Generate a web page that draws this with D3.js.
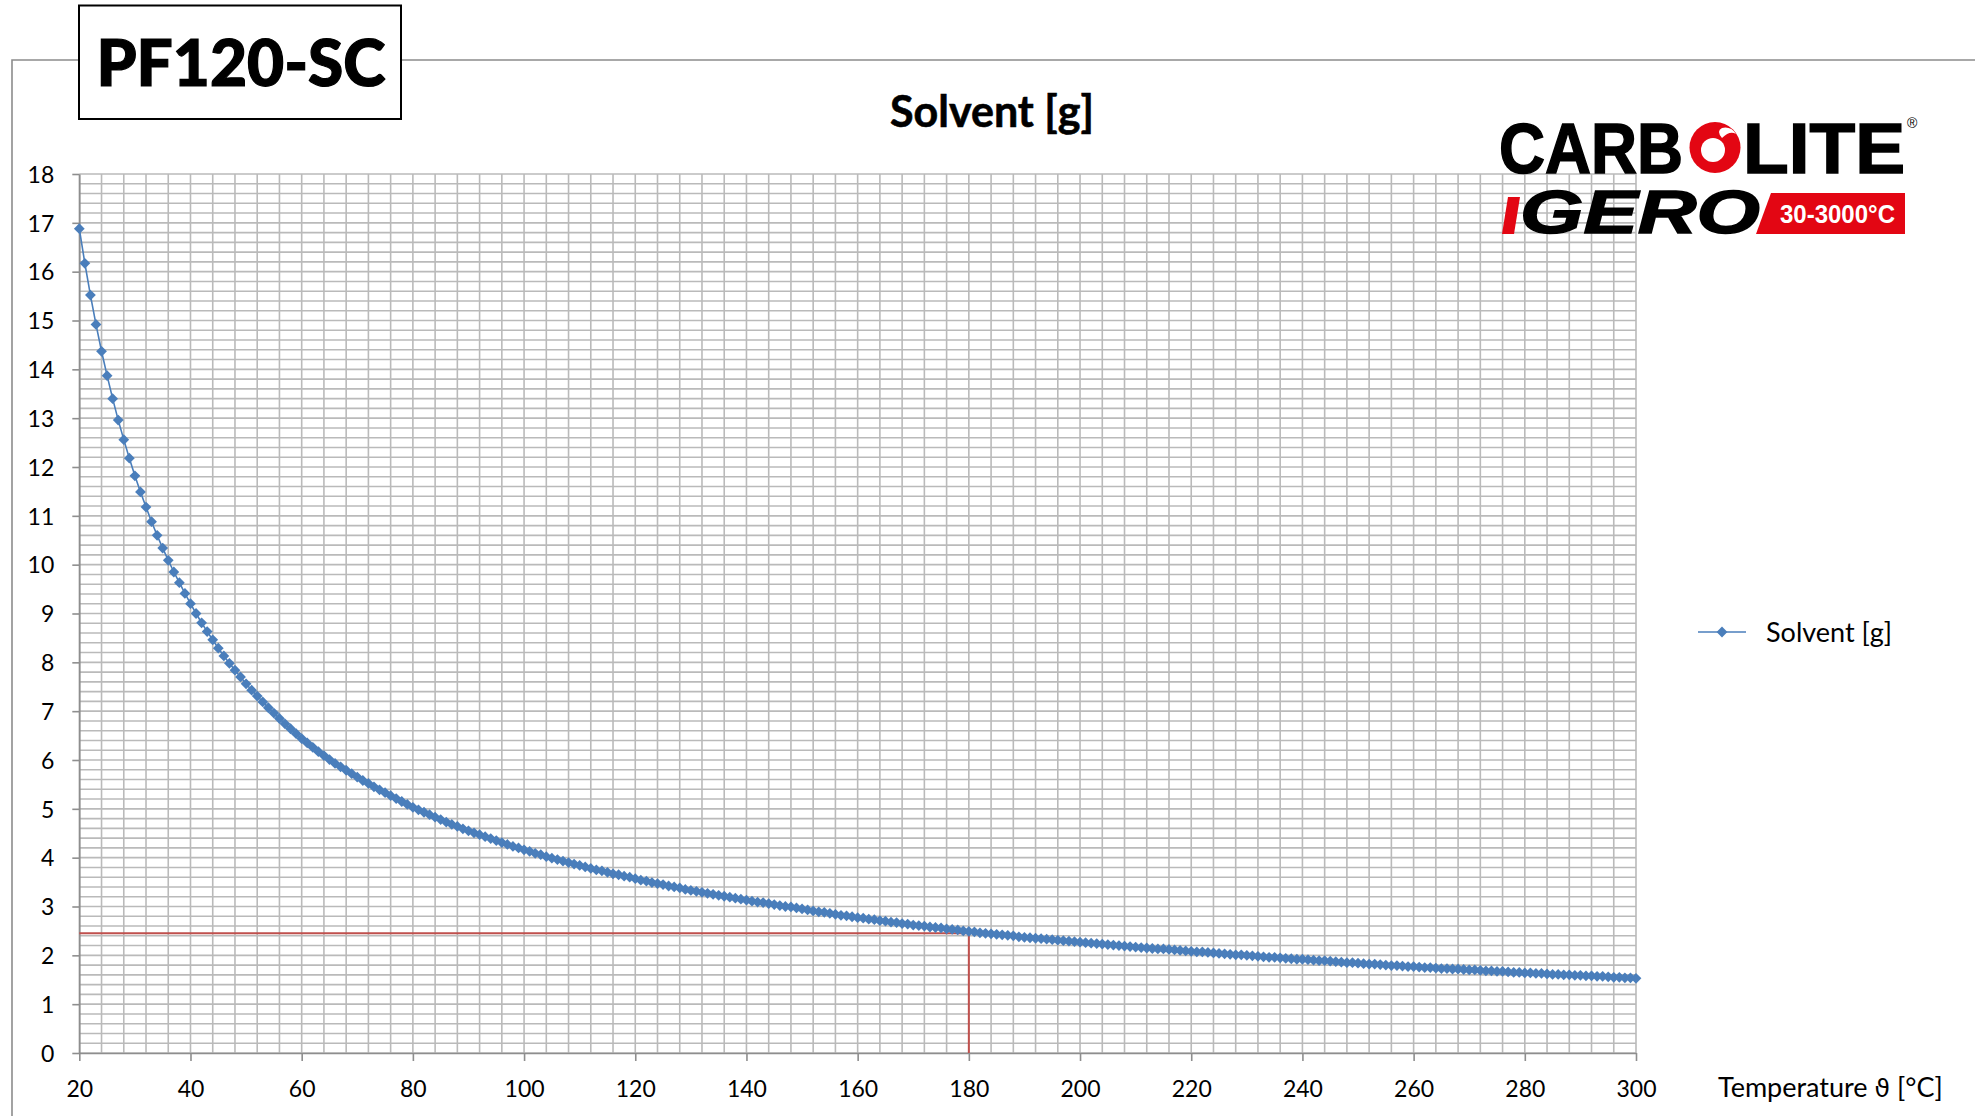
<!DOCTYPE html>
<html>
<head>
<meta charset="utf-8">
<script src="https://cdn.jsdelivr.net/npm/d3@7"></script>
<style>
  body { margin: 0; background: #fff; }
  svg { display: block; font-family: Lato, "Open Sans", sans-serif; }
</style>
</head>
<body>
<div id="chart"></div>
<script>
// one reading per degree, 20..300 degC
var temperatures = d3.range(20, 301);

var solvent = [
  16.88, 16.17, 15.52, 14.92, 14.37, 13.87, 13.40, 12.96, 12.56, 12.18,
  11.82, 11.49, 11.18, 10.88, 10.60, 10.34, 10.09, 9.85, 9.63, 9.41,
  9.20, 9.00, 8.81, 8.63, 8.46, 8.29, 8.13, 7.98, 7.84, 7.70,
  7.56, 7.43, 7.31, 7.19, 7.07, 6.96, 6.85, 6.74, 6.64, 6.54,
  6.44, 6.35, 6.26, 6.17, 6.09, 6.01, 5.93, 5.86, 5.79, 5.72,
  5.65, 5.58, 5.52, 5.45, 5.39, 5.33, 5.27, 5.21, 5.15, 5.09,
  5.03, 4.98, 4.93, 4.88, 4.83, 4.78, 4.73, 4.68, 4.64, 4.59,
  4.55, 4.51, 4.47, 4.43, 4.39, 4.35, 4.31, 4.27, 4.23, 4.20,
  4.16, 4.13, 4.09, 4.06, 4.02, 3.99, 3.96, 3.93, 3.90, 3.87,
  3.84, 3.81, 3.78, 3.75, 3.73, 3.70, 3.67, 3.65, 3.62, 3.60,
  3.57, 3.54, 3.52, 3.49, 3.47, 3.45, 3.42, 3.40, 3.38, 3.35,
  3.33, 3.31, 3.29, 3.27, 3.25, 3.23, 3.21, 3.19, 3.17, 3.15,
  3.13, 3.11, 3.09, 3.08, 3.06, 3.04, 3.02, 3.00, 2.99, 2.97,
  2.95, 2.93, 2.91, 2.89, 2.88, 2.86, 2.84, 2.82, 2.81, 2.79,
  2.77, 2.76, 2.74, 2.73, 2.71, 2.70, 2.68, 2.67, 2.65, 2.64,
  2.62, 2.61, 2.60, 2.58, 2.57, 2.56, 2.54, 2.53, 2.52, 2.50,
  2.49, 2.48, 2.46, 2.45, 2.44, 2.43, 2.42, 2.41, 2.40, 2.38,
  2.37, 2.36, 2.35, 2.34, 2.33, 2.32, 2.31, 2.30, 2.29, 2.28,
  2.27, 2.26, 2.25, 2.24, 2.23, 2.22, 2.21, 2.20, 2.19, 2.18,
  2.17, 2.16, 2.15, 2.14, 2.13, 2.13, 2.12, 2.11, 2.10, 2.09,
  2.08, 2.07, 2.07, 2.06, 2.05, 2.04, 2.03, 2.02, 2.01, 2.01,
  2.00, 1.99, 1.98, 1.97, 1.96, 1.96, 1.95, 1.94, 1.93, 1.92,
  1.92, 1.91, 1.90, 1.89, 1.89, 1.88, 1.87, 1.86, 1.85, 1.85,
  1.84, 1.83, 1.82, 1.82, 1.81, 1.80, 1.79, 1.79, 1.78, 1.77,
  1.77, 1.76, 1.75, 1.75, 1.74, 1.73, 1.73, 1.72, 1.72, 1.71,
  1.70, 1.70, 1.69, 1.68, 1.68, 1.67, 1.67, 1.66, 1.65, 1.65,
  1.64, 1.64, 1.63, 1.63, 1.62, 1.61, 1.61, 1.60, 1.60, 1.59,
  1.59, 1.58, 1.58, 1.57, 1.57, 1.56, 1.55, 1.55, 1.54, 1.54,
  1.53
];

var xTicks = [20, 40, 60, 80, 100, 120, 140, 160, 180, 200, 220, 240, 260, 280, 300];
var yTicks = [0, 1, 2, 3, 4, 5, 6, 7, 8, 9, 10, 11, 12, 13, 14, 15, 16, 17, 18];
var xGrid = d3.range(20, 301, 4);
var yGrid = d3.range(0, 90.5).map(function(i) { return i / 5; });

// reading marked on the chart
var refTemp = 180;
var refValue = 2.45;

var W = 1975, H = 1116;
var plot = { left: 79.3, right: 1636, top: 174, bottom: 1053 };
var blue = '#4a7ebb', red = '#c0504d';

var svg = d3.select('#chart').append('svg')
  .attr('width', W).attr('height', H);

var x = d3.scaleLinear().domain([20, 300]).range([plot.left, plot.right]);
var y = d3.scaleLinear().domain([0, 18]).range([plot.bottom, plot.top]);

// outer chart frame, broken by the title box
svg.append('path')
  .attr('d', 'M12,1120V60H79M401,60H1980')
  .attr('fill', 'none').attr('stroke', '#8c8c8c').attr('stroke-width', 1.6);

svg.append('rect')
  .attr('x', 79).attr('y', 5.5).attr('width', 322).attr('height', 113.5)
  .attr('fill', '#fff').attr('stroke', '#000').attr('stroke-width', 2);
svg.append('text')
  .attr('x', 241).attr('y', 86).attr('text-anchor', 'middle')
  .attr('stroke', '#000').attr('stroke-width', 1.2)
  .style('font-size', '64px').style('font-weight', 900)
  .text('PF120-SC');

svg.append('text')
  .attr('x', 992).attr('y', 127).attr('text-anchor', 'middle')
  .attr('stroke', '#000').attr('stroke-width', 0.6)
  .style('font-size', '43px').style('font-weight', 700)
  .text('Solvent [g]');

// grid
var grid = svg.append('g').attr('stroke', '#bababa').attr('stroke-width', 1.6);
grid.selectAll('line.gx').data(xGrid).enter().append('line')
  .attr('class', 'gx')
  .attr('x1', function(d) { return x(d); }).attr('x2', function(d) { return x(d); })
  .attr('y1', plot.top).attr('y2', plot.bottom);
grid.selectAll('line.gy').data(yGrid).enter().append('line')
  .attr('class', 'gy')
  .attr('x1', plot.left).attr('x2', plot.right)
  .attr('y1', function(d) { return y(d); }).attr('y2', function(d) { return y(d); });

// axes
var xAxis = svg.append('g')
  .attr('transform', 'translate(0,' + plot.bottom + ')')
  .call(d3.axisBottom(x).tickValues(xTicks).tickSize(8).tickPadding(20).tickSizeOuter(0));
var yAxis = svg.append('g')
  .attr('transform', 'translate(' + plot.left + ',0)')
  .call(d3.axisLeft(y).tickValues(yTicks).tickSize(7).tickPadding(18).tickSizeOuter(0));

[xAxis, yAxis].forEach(function(a) {
  a.select('.domain').attr('stroke', '#8e8e8e').attr('stroke-width', 1.6);
  a.selectAll('.tick line').attr('stroke', '#8e8e8e').attr('stroke-width', 1.6);
  a.selectAll('.tick text')
    .attr('fill', '#000')
    .style('font-family', 'Lato, "Open Sans", sans-serif')
    .style('font-size', '23px');
});
yAxis.selectAll('.tick text').attr('dy', '0.36em');

svg.append('text')
  .attr('x', 1718).attr('y', 1097)
  .style('font-size', '27px')
  .text('Temperature ')
  .append('tspan').style('font-family', '"DejaVu Sans"').style('font-size', '25px').text('\u03d1')
  .select(function() { return this.parentNode; })
  .append('tspan').text(' [\u00b0C]');

// reference reading
svg.append('path')
  .attr('d', 'M' + x(20) + ',' + y(refValue) + 'H' + x(refTemp) + 'V' + y(0))
  .attr('fill', 'none').attr('stroke', red).attr('stroke-width', 2);

// series
var points = temperatures.map(function(t, i) { return { t: t, v: solvent[i] }; });

svg.append('path')
  .datum(points)
  .attr('d', d3.line().x(function(d) { return x(d.t); }).y(function(d) { return y(d.v); }))
  .attr('fill', 'none').attr('stroke', blue).attr('stroke-width', 1.6);

var diamond = d3.symbol().type(d3.symbolSquare).size(58);
svg.append('g').selectAll('path').data(points).enter().append('path')
  .attr('d', diamond)
  .attr('transform', function(d) { return 'translate(' + x(d.t) + ',' + y(d.v) + ') rotate(45)'; })
  .attr('fill', blue);

// legend
var legend = svg.append('g');
legend.append('line')
  .attr('x1', 1698).attr('x2', 1746).attr('y1', 632).attr('y2', 632)
  .attr('stroke', blue).attr('stroke-width', 1.6);
legend.append('path')
  .attr('d', diamond)
  .attr('transform', 'translate(1722,632) rotate(45)')
  .attr('fill', blue);
legend.append('text')
  .attr('x', 1766).attr('y', 642)
  .style('font-size', '27px')
  .text('Solvent [g]');

// brand logo
var logoRed = '#e30613';
var logo = svg.append('g').style('font-family', '"Liberation Sans", Arial, sans-serif');
logo.append('text')
  .attr('x', 1499).attr('y', 173.3)
  .attr('textLength', 184).attr('lengthAdjust', 'spacingAndGlyphs')
  .attr('stroke', '#000').attr('stroke-width', 1.5)
  .style('font-size', '70px').style('font-weight', 700)
  .text('CARB');
logo.append('circle')
  .attr('cx', 1715).attr('cy', 147.5).attr('r', 25.5).attr('fill', logoRed);
logo.append('circle')
  .attr('cx', 1713).attr('cy', 150).attr('r', 12).attr('fill', '#fff');
logo.append('path')
  .attr('d', 'M1722,138 Q1730,130 1736,134 Q1731,126 1722,128 Q1716,131 1722,138Z')
  .attr('fill', '#fff');
logo.append('text')
  .attr('x', 1743).attr('y', 173.3)
  .attr('textLength', 162).attr('lengthAdjust', 'spacingAndGlyphs')
  .attr('stroke', '#000').attr('stroke-width', 1.5)
  .style('font-size', '70px').style('font-weight', 700)
  .text('LITE');
logo.append('text')
  .attr('x', 1907).attr('y', 128)
  .style('font-size', '14px')
  .text('\u00ae');
logo.append('path')
  .attr('d', 'M1508,197H1520L1514,234H1502Z')
  .attr('fill', logoRed);
logo.append('text')
  .attr('x', 1520).attr('y', 233)
  .attr('textLength', 240).attr('lengthAdjust', 'spacingAndGlyphs')
  .attr('stroke', '#000').attr('stroke-width', 1.5)
  .style('font-size', '62px').style('font-weight', 700).style('font-style', 'italic')
  .text('GERO');
logo.append('path')
  .attr('d', 'M1771,193H1905V234H1756Z')
  .attr('fill', logoRed);
logo.append('text')
  .attr('x', 1780).attr('y', 223)
  .attr('textLength', 115).attr('lengthAdjust', 'spacingAndGlyphs')
  .attr('fill', '#fff')
  .style('font-size', '25px').style('font-weight', 700)
  .text('30-3000\u00b0C');
</script>
</body>
</html>
